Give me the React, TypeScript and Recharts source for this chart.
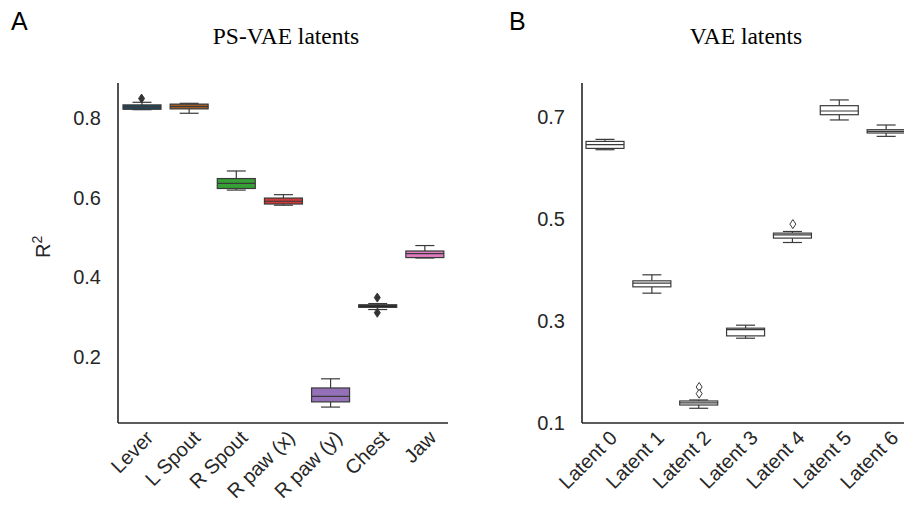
import React from "react";
import { ComposedChart, Bar, Line, XAxis, YAxis } from "recharts";

// panel A: PS-VAE latents
const partsA = ["Lever", "L Spout", "R Spout", "R paw (x)", "R paw (y)", "Chest", "Jaw"];
const lowA = [0.821, 0.812, 0.619, 0.581, 0.074, 0.319, 0.4485];
const q1A = [0.822, 0.823, 0.623, 0.584, 0.087, 0.3245, 0.4495];
const medA = [0.828, 0.829, 0.636, 0.591, 0.101, 0.328, 0.4596];
const q3A = [0.833, 0.835, 0.648, 0.599, 0.122, 0.331, 0.466];
const highA = [0.8395, 0.837, 0.667, 0.6075, 0.145, 0.334, 0.4797];
const out1A = [0.849, null, null, null, null, 0.349, null];
const out2A = [null, null, null, null, null, 0.311, null];
const ticksA = [0.2, 0.4, 0.6, 0.8];

// panel B: VAE latents
const latentsB = ["Latent 0", "Latent 1", "Latent 2", "Latent 3", "Latent 4", "Latent 5", "Latent 6"];
const lowB = [0.6361, 0.3547, 0.1289, 0.2663, 0.4541, 0.6945, 0.6623];
const q1B = [0.6387, 0.3671, 0.1353, 0.2709, 0.4627, 0.7048, 0.6689];
const medB = [0.646, 0.3744, 0.1393, 0.2832, 0.4692, 0.7121, 0.672];
const q3B = [0.6524, 0.3789, 0.1432, 0.286, 0.4725, 0.7225, 0.6754];
const highB = [0.6564, 0.3907, 0.1452, 0.2919, 0.4757, 0.7338, 0.6846];
const out1B = [null, null, 0.1707, null, 0.4902, null, null];
const out2B = [null, null, 0.1575, null, null, null, null];
const ticksB = [0.1, 0.3, 0.5, 0.7];

const colorsA = ["#1e4a66", "#9c5c26", "#36a036", "#d03a3a", "#9470b8", "#111111", "#e07bbf"];
const EDGE = "#3a3a3a";
const AXIS = "#262626";
const FONT = "'Liberation Sans', Arial, sans-serif";

function buildRows(names, lo, q1, med, q3, hi, o1, o2) {
  return names.map((name, i) => ({
    name,
    lo: lo[i],
    q1: q1[i],
    med: med[i],
    q3: q3[i],
    hi: hi[i],
    o1: o1[i],
    o2: o2[i],
  }));
}

const rowsA = buildRows(partsA, lowA, q1A, medA, q3A, highA, out1A, out2A);
const rowsB = buildRows(latentsB, lowB, q1B, medB, q3B, highB, out1B, out2B);

function makeBox(colors: string[] | null) {
  return (props: any) => {
    const { x, y, width, height, payload, index } = props;
    const top = Math.min(y, y + height);
    const bot = Math.max(y, y + height);
    const span = payload.hi - payload.lo || 1;
    const py = (v: number) => bot - ((v - payload.lo) / span) * (bot - top);
    const cx = x + width / 2;
    const cap = width / 4;
    const fill = colors ? colors[index] : "#ffffff";
    return (
      <g>
        <line x1={cx} x2={cx} y1={py(payload.hi)} y2={py(payload.q3)} stroke={EDGE} strokeWidth={1.2} />
        <line x1={cx} x2={cx} y1={py(payload.q1)} y2={py(payload.lo)} stroke={EDGE} strokeWidth={1.2} />
        <line x1={cx - cap} x2={cx + cap} y1={py(payload.hi)} y2={py(payload.hi)} stroke={EDGE} strokeWidth={1.2} />
        <line x1={cx - cap} x2={cx + cap} y1={py(payload.lo)} y2={py(payload.lo)} stroke={EDGE} strokeWidth={1.2} />
        <rect
          x={x}
          y={py(payload.q3)}
          width={width}
          height={Math.max(py(payload.q1) - py(payload.q3), 1)}
          fill={fill}
          stroke={EDGE}
          strokeWidth={1.2}
        />
        <line x1={x} x2={x + width} y1={py(payload.med)} y2={py(payload.med)} stroke={EDGE} strokeWidth={1.2} />
      </g>
    );
  };
}

function makeDiamond(fill: string) {
  return (p: any) => {
    if (p.value == null || p.cy == null) return <g key={`d${p.index}`} />;
    const { cx, cy } = p;
    return (
      <path
        key={`d${p.index}`}
        d={`M${cx},${cy - 4.5} L${cx + 3},${cy} L${cx},${cy + 4.5} L${cx - 3},${cy} Z`}
        fill={fill}
        stroke={EDGE}
        strokeWidth={1}
      />
    );
  };
}

const SlantTick = (props: any) => {
  const { x, y, payload } = props;
  const ax = x + 13;
  const ay = y + 14;
  return (
    <text
      x={ax}
      y={ay}
      textAnchor="end"
      transform={`rotate(-45 ${ax} ${ay})`}
      fontSize={20}
      fontFamily={FONT}
      fill={AXIS}
    >
      {payload.value}
    </text>
  );
};

function BoxPanel({ rows, domain, ticks, colors, outlierFill, width, yWidth }) {
  return (
    <ComposedChart
      width={width}
      height={505}
      data={rows}
      margin={{ top: 83, right: 12, bottom: 2, left: 0 }}
    >
      <XAxis
        dataKey="name"
        interval={0}
        height={80}
        tickLine={false}
        tickSize={0}
        axisLine={{ stroke: AXIS, strokeWidth: 1.6 }}
        tick={<SlantTick />}
      />
      <YAxis
        type="number"
        domain={domain}
        ticks={ticks}
        allowDataOverflow
        width={yWidth}
        tickLine={false}
        tickSize={0}
        tickMargin={17}
        axisLine={{ stroke: AXIS, strokeWidth: 1.6 }}
        tick={{ fontSize: 20, fontFamily: FONT, fill: AXIS }}
        tickFormatter={(v) => v.toFixed(1)}
      />
      <Bar
        dataKey={(d) => [d.lo, d.hi]}
        barSize={38}
        shape={makeBox(colors)}
        isAnimationActive={false}
      />
      <Line dataKey="o1" stroke="none" dot={makeDiamond(outlierFill)} activeDot={false} isAnimationActive={false} />
      <Line dataKey="o2" stroke="none" dot={makeDiamond(outlierFill)} activeDot={false} isAnimationActive={false} />
    </ComposedChart>
  );
}

export default function App() {
  return (
    <div
      style={{
        position: "absolute",
        left: 0,
        top: 0,
        width: 904,
        height: 505,
        overflow: "hidden",
        background: "#ffffff",
      }}
    >
      <div style={{ position: "absolute", left: 0, top: 0 }}>
        <BoxPanel
          rows={rowsA}
          domain={[0.034, 0.888]}
          ticks={ticksA}
          colors={colorsA}
          outlierFill="#333333"
          width={460}
          yWidth={118}
        />
      </div>
      <div style={{ position: "absolute", left: 470, top: 0 }}>
        <BoxPanel
          rows={rowsB}
          domain={[0.1, 0.767]}
          ticks={ticksB}
          colors={null}
          outlierFill="#ffffff"
          width={452}
          yWidth={112}
        />
      </div>
      <svg
        width={904}
        height={505}
        style={{ position: "absolute", left: 0, top: 0, pointerEvents: "none" }}
      >
        <text x={11} y={30} fontSize={25} fontFamily={FONT} fill="#000">A</text>
        <text x={509} y={30} fontSize={25} fontFamily={FONT} fill="#000">B</text>
        <text x={286} y={44} textAnchor="middle" fontSize={23.5} fontFamily="'Liberation Serif', 'Times New Roman', serif" fill="#000">
          PS-VAE latents
        </text>
        <text x={746} y={44} textAnchor="middle" fontSize={23.5} fontFamily="'Liberation Serif', 'Times New Roman', serif" fill="#000">
          VAE latents
        </text>
        <text
          x={50}
          y={258}
          transform="rotate(-90 50 258)"
          fontSize={20}
          fontFamily={FONT}
          fill={AXIS}
        >
          R<tspan dy={-8} fontSize={14}>2</tspan>
        </text>
      </svg>
    </div>
  );
}
